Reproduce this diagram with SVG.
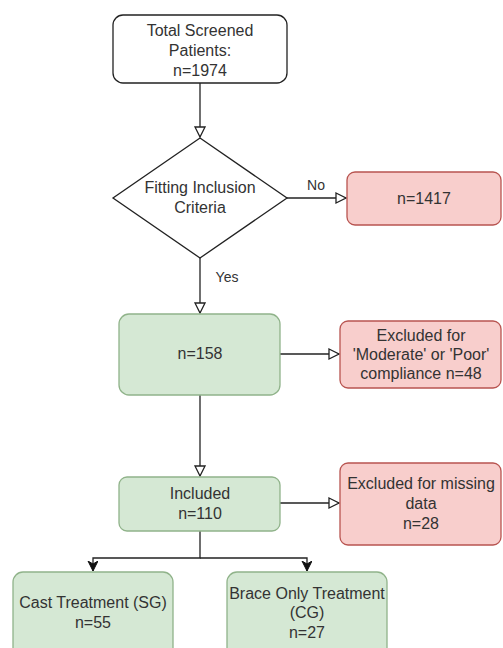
<svg xmlns="http://www.w3.org/2000/svg" width="503" height="648" viewBox="0 0 503 648">
<style>
text{font-family:"Liberation Sans",Arial,sans-serif;font-size:16px;fill:#333;text-anchor:middle}
.lbl{font-size:14px}
.white{fill:#fff;stroke:#222;stroke-width:1.3}
.green{fill:#d5e8d4;stroke:#90b38a;stroke-width:1.3}
.red{fill:#f8cecc;stroke:#b85450;stroke-width:1.3}
.edge{fill:none;stroke:#222;stroke-width:1.3}
</style>
<defs>
<marker id="open" markerWidth="12" markerHeight="14" refX="11" refY="6" orient="auto" markerUnits="userSpaceOnUse">
<path d="M1,1 L11,6 L1,11 Z" fill="#fff" stroke="#222" stroke-width="1.3"/>
</marker>
<marker id="filled" markerWidth="12" markerHeight="14" refX="10" refY="5" orient="auto" markerUnits="userSpaceOnUse">
<path d="M0,0 L10,5 L0,10 L3,5 Z" fill="#111" stroke="#111" stroke-width="1"/>
</marker>
</defs>
<rect width="503" height="648" fill="#fff"/>
<g id="connectors">
<path class="edge" d="M200,83 V137" marker-end="url(#open)"/>
<path class="edge" d="M287,198 H346" marker-end="url(#open)"/>
<text class="lbl" x="316" y="190">No</text>
<path class="edge" d="M200,258 V313" marker-end="url(#open)"/>
<text class="lbl" x="227" y="282">Yes</text>
<path class="edge" d="M280,354 H339" marker-end="url(#open)"/>
<path class="edge" d="M200,395 V476" marker-end="url(#open)"/>
<path class="edge" d="M280,503 H339" marker-end="url(#open)"/>
<path class="edge" d="M200,531 V558 H93 V571" marker-end="url(#filled)"/>
<path class="edge" d="M200,558 H307 V571" marker-end="url(#filled)"/>
</g>
<g id="screened">
<rect class="white" x="113" y="15" width="174" height="68" rx="10"/>
<text x="200" y="36">Total Screened</text>
<text x="200" y="56">Patients:</text>
<text x="200" y="76">n=1974</text>
</g>
<g id="inclusion">
<polygon class="white" points="200,138 287,198 200,258 113,198"/>
<text x="200" y="193">Fitting Inclusion</text>
<text x="200" y="213">Criteria</text>
</g>
<g id="excluded1417">
<rect class="red" x="347" y="172" width="154" height="53" rx="8"/>
<text x="424" y="204">n=1417</text>
</g>
<g id="n158">
<rect class="green" x="119" y="314" width="161" height="81" rx="10"/>
<text x="200" y="359">n=158</text>
</g>
<g id="excluded48">
<rect class="red" x="340" y="321" width="161" height="67" rx="8"/>
<text x="421" y="341">Excluded for</text>
<text x="421" y="360">'Moderate' or 'Poor'</text>
<text x="421" y="379">compliance n=48</text>
</g>
<g id="included">
<rect class="green" x="119" y="477" width="161" height="54" rx="8"/>
<text x="200" y="499">Included</text>
<text x="200" y="519">n=110</text>
</g>
<g id="excluded28">
<rect class="red" x="340" y="463" width="161" height="82" rx="8"/>
<text x="421" y="489">Excluded for missing</text>
<text x="421" y="509">data</text>
<text x="421" y="529">n=28</text>
</g>
<g id="cast">
<rect class="green" x="13" y="572" width="160" height="90" rx="10"/>
<text x="93" y="608">Cast Treatment (SG)</text>
<text x="93" y="628">n=55</text>
</g>
<g id="brace">
<rect class="green" x="227" y="572" width="160" height="90" rx="10"/>
<text x="307" y="599">Brace Only Treatment</text>
<text x="307" y="618">(CG)</text>
<text x="307" y="638">n=27</text>
</g>
</svg>
